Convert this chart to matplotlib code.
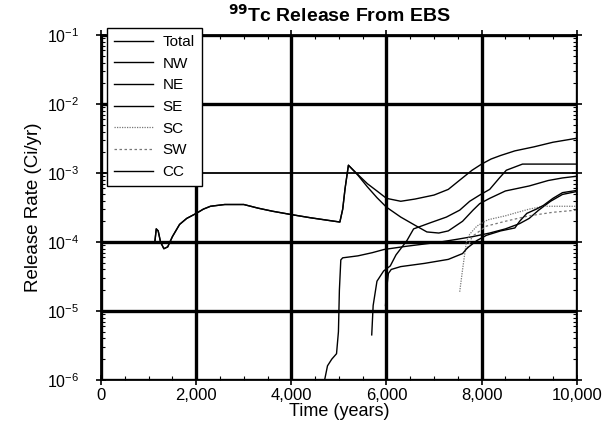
import numpy as np
import matplotlib.pyplot as plt
from matplotlib.ticker import MultipleLocator, LogLocator, NullFormatter

plt.rcParams['font.family'] = ['Liberation Sans', 'DejaVu Sans']

# release rate curves (Ci/yr)
total_t = [1130, 1160, 1200, 1250, 1320, 1400, 1500, 1650, 1800, 2000, 2150, 2300, 2600,
           3000, 3300, 3600, 4000, 4400, 4800, 5020, 5080, 5130, 5200, 5400, 5600, 5800,
           6000, 6300, 6600, 7000, 7300, 7550, 7800, 8000, 8200, 8400, 8700, 9100, 9500, 10000]
total_r = [1.0e-4, 1.55e-4, 1.45e-4, 1.0e-4, 8e-5, 8.5e-5, 1.2e-4, 1.8e-4, 2.2e-4, 2.6e-4,
           3.0e-4, 3.3e-4, 3.5e-4, 3.5e-4, 3.1e-4, 2.8e-4, 2.5e-4, 2.25e-4, 2.05e-4, 1.95e-4,
           3.0e-4, 6e-4, 1.3e-3, 9.5e-4, 7e-4, 5.5e-4, 4.3e-4, 3.9e-4, 4.2e-4, 4.8e-4, 5.8e-4,
           8e-4, 1.1e-3, 1.35e-3, 1.6e-3, 1.8e-3, 2.1e-3, 2.4e-3, 2.8e-3, 3.2e-3]

nw_t = [1130, 1160, 1200, 1250, 1320, 1400, 1500, 1650, 1800, 2000, 2150, 2300, 2600,
        3000, 3300, 3600, 4000, 4400, 4800, 5020, 5080, 5130, 5200, 5400, 5600, 5800,
        6000, 6300, 6600, 6850, 7100, 7300, 7600, 7820, 7960, 8170, 8500, 9000, 9400, 9700, 10000]
nw_r = [1.0e-4, 1.55e-4, 1.45e-4, 1.0e-4, 8e-5, 8.5e-5, 1.2e-4, 1.8e-4, 2.2e-4, 2.6e-4,
        3.0e-4, 3.3e-4, 3.5e-4, 3.5e-4, 3.1e-4, 2.8e-4, 2.5e-4, 2.25e-4, 2.05e-4, 1.95e-4,
        3.0e-4, 6e-4, 1.3e-3, 9.3e-4, 6.3e-4, 4.4e-4, 3.2e-4, 2.3e-4, 1.75e-4, 1.4e-4,
        1.35e-4, 1.45e-4, 2.0e-4, 2.9e-4, 3.6e-4, 4.3e-4, 5.5e-4, 6.5e-4, 7.8e-4, 8.5e-4, 9e-4]

ne_t = [5690, 5720, 5800, 5940, 6080, 6200, 6430, 6570, 6920, 7260, 7540, 7750, 7960,
        8170, 8375, 8520, 8860, 10000]
ne_r = [4.5e-6, 1.2e-5, 2.7e-5, 3.8e-5, 4.5e-5, 6.5e-5, 1.05e-4, 1.55e-4, 1.9e-4, 2.3e-4,
        2.9e-4, 3.9e-4, 4.8e-4, 5.8e-4, 8.5e-4, 1.1e-3, 1.35e-3, 1.35e-3]

se_t = [4700, 4760, 4850, 4950, 4990, 5010, 5040, 5080, 5400, 5700, 5950, 6430, 7130,
        7500, 7820, 8170, 8500, 8800, 9000, 9200, 9450, 9700, 10000]
se_r = [1e-6, 1.6e-6, 2.0e-6, 2.4e-6, 5e-6, 2e-5, 5.5e-5, 5.9e-5, 6.3e-5, 7.0e-5, 7.8e-5,
        8.7e-5, 1.0e-4, 1.1e-4, 1.2e-4, 1.35e-4, 1.55e-4, 1.85e-4, 2.2e-4, 2.9e-4, 3.9e-4,
        4.9e-4, 5.4e-4]

sc_t = [7540, 7600, 7680, 7750, 7900, 8130, 8500, 8760, 9000, 9300, 10000]
sc_r = [1.9e-5, 4e-5, 1.0e-4, 1.3e-4, 1.7e-4, 2.1e-4, 2.4e-4, 2.7e-4, 3.0e-4, 3.3e-4, 3.3e-4]

sw_t = [7700, 7800, 8100, 8500, 9000, 9500, 10000]
sw_r = [8e-5, 1.2e-4, 1.7e-4, 2.0e-4, 2.4e-4, 2.7e-4, 2.9e-4]

cc_t = [5980, 6000, 6040, 6100, 6300, 6800, 7300, 7600, 7700, 7900, 8100, 8400, 8700,
        8800, 8950, 9150, 9300, 9500, 9700, 10000]
cc_r = [1.2e-5, 2.0e-5, 3.5e-5, 4.0e-5, 4.4e-5, 4.9e-5, 5.6e-5, 6.8e-5, 8.2e-5, 1.05e-4,
        1.25e-4, 1.45e-4, 1.6e-4, 2.0e-4, 2.6e-4, 3.0e-4, 3.4e-4, 4.3e-4, 5.2e-4, 5.6e-4]

fig = plt.figure(figsize=(6.09, 4.24), dpi=100)
ax = fig.add_axes([0.166, 0.104, 0.781, 0.813])

ax.plot(total_t, total_r, color='black', lw=1.0, label='Total')
ax.plot(nw_t, nw_r, color='black', lw=1.0, label='NW')
ax.plot(ne_t, ne_r, color='black', lw=1.0, label='NE')
ax.plot(se_t, se_r, color='black', lw=1.0, label='SE')
ax.plot(sc_t, sc_r, color='#777777', lw=0.9, ls=(0, (1, 1)), label='SC')
ax.plot(sw_t, sw_r, color='#777777', lw=0.9, ls=(0, (2, 2)), label='SW')
ax.plot(cc_t, cc_r, color='black', lw=1.0, label='CC')

ax.set_yscale('log')
ax.set_xlim(0, 10000)
ax.set_ylim(1e-6, 1e-1)
ax.set_xticks([0, 2000, 4000, 6000, 8000, 10000])
ax.set_xticklabels(['0', '2,000', '4,000', '6,000', '8,000', '10,000'])
ax.xaxis.set_minor_locator(MultipleLocator(500))
ax.yaxis.set_minor_locator(LogLocator(base=10, subs=np.arange(2, 10)))
ax.yaxis.set_minor_formatter(NullFormatter())

ax.tick_params(which='major', direction='inout', length=7, width=1.2, labelsize=12,
               top=True, right=True)
ax.tick_params(axis='x', which='major', pad=2)
ax.tick_params(axis='y', which='major', labelsize=11.5, pad=12)
ax.tick_params(which='minor', direction='in', length=3, width=0.8, top=True, right=True)

ax.grid(which='major', color='black', lw=2.4)
for val, gl in zip(ax.get_yticks(), ax.yaxis.get_gridlines()):
    if abs(np.log10(val) + 3) < 1e-6:
        gl.set_linewidth(1.3)
for sp in ax.spines.values():
    sp.set_linewidth(1.3)

ax.set_xlabel('Time (years)', fontsize=13, labelpad=0)
ax.set_ylabel('Release Rate (Ci/yr)', fontsize=13.5, labelpad=4)
ax.set_title(r'$^{\mathbf{99}}$Tc Release From EBS', fontsize=14, fontweight='bold', pad=10)

leg = ax.legend(loc='upper left', bbox_to_anchor=(0.012, 1.02), borderaxespad=0,
                fontsize=11, frameon=True, fancybox=False, edgecolor='black',
                framealpha=1, handlelength=2.6, labelspacing=0.5, borderpad=0.45,
                handletextpad=0.6)
leg.get_frame().set_linewidth(1.0)

fig.savefig('out.png', dpi=100)
